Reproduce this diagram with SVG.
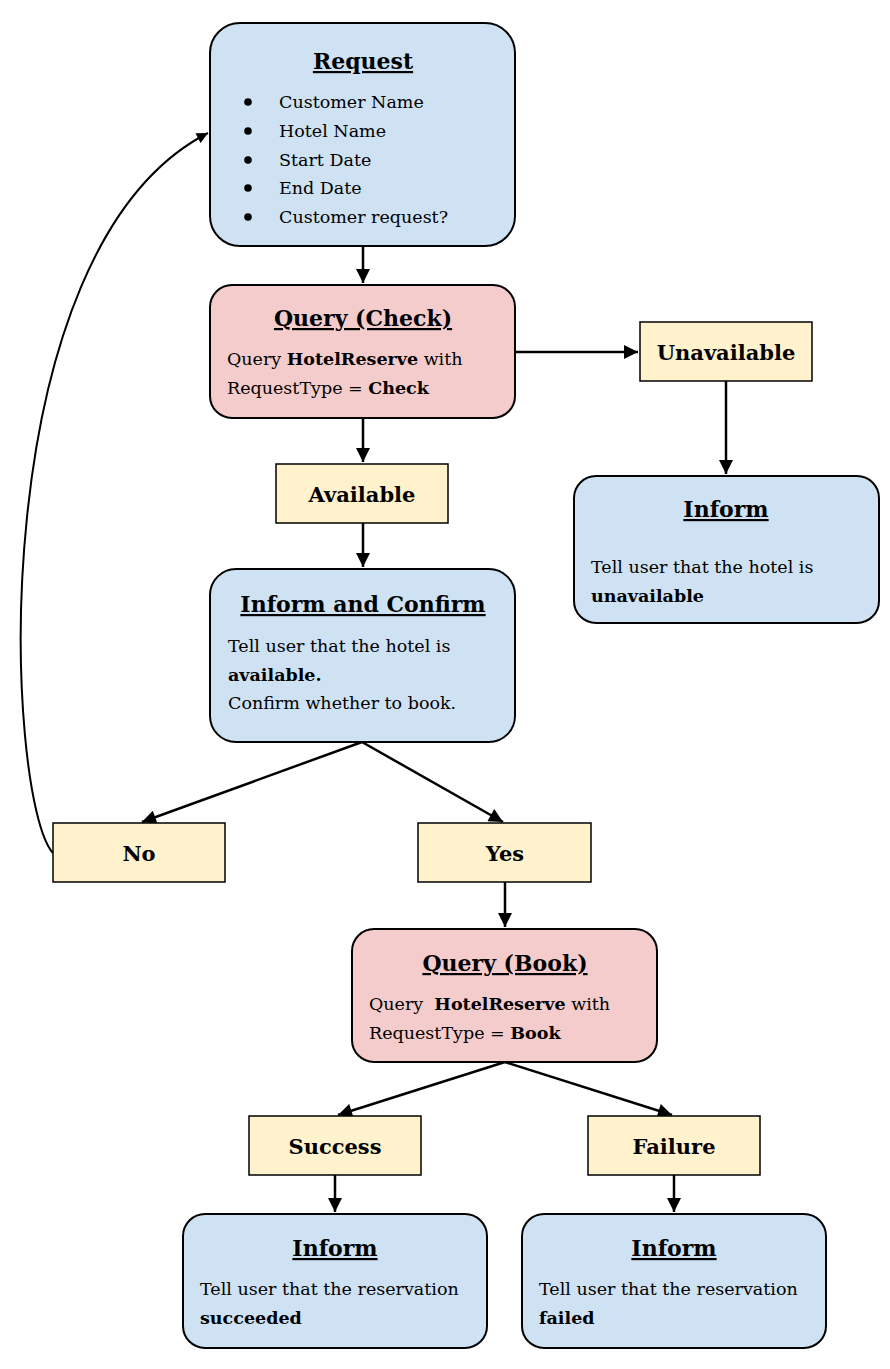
<svg xmlns="http://www.w3.org/2000/svg" width="890" height="1369" viewBox="0 0 890 1369">
  <style>
    text { font-family: "DejaVu Serif", "Liberation Serif", serif; fill: #000; }
    .step { fill: #cfe2f3; stroke: #000; stroke-width: 2; }
    .query { fill: #f4cccc; stroke: #000; stroke-width: 2; }
    .result { fill: #fff2cc; stroke: #000; stroke-width: 1.5; }
    .title { font-size: 22px; font-weight: bold; text-decoration: underline; text-anchor: middle; }
    .body { font-size: 17.5px; }
    .label { font-size: 21px; font-weight: bold; text-anchor: middle; }
    .edge { fill: none; stroke: #000; stroke-width: 2.5; }
    .b { font-weight: bold; }
  </style>
  <defs>
    <marker id="arrow" viewBox="0 0 10 10" refX="10" refY="5" markerWidth="6.4" markerHeight="5.6" markerUnits="strokeWidth" orient="auto">
      <path d="M0,0 L10,5 L0,10 z" fill="#000"/>
    </marker>
  </defs>

  <rect width="890" height="1369" fill="#fff"/>

  <!-- connectors -->
  <g id="connectors">
    <path class="edge" d="M363,246 V283" marker-end="url(#arrow)"/>
    <path class="edge" d="M515,352 H638" marker-end="url(#arrow)"/>
    <path class="edge" d="M726,381 V474" marker-end="url(#arrow)"/>
    <path class="edge" d="M363,418 V462" marker-end="url(#arrow)"/>
    <path class="edge" d="M363,523 V567" marker-end="url(#arrow)"/>
    <path class="edge" d="M362,742 L142,822" marker-end="url(#arrow)"/>
    <path class="edge" d="M362,742 L503,822" marker-end="url(#arrow)"/>
    <path class="edge" d="M53,853 C5,800 -20,250 208,133" marker-end="url(#arrow)" style="stroke-width:2"/>
    <path class="edge" d="M505,882 V927" marker-end="url(#arrow)"/>
    <path class="edge" d="M505,1062 L338,1115" marker-end="url(#arrow)"/>
    <path class="edge" d="M505,1062 L672,1115" marker-end="url(#arrow)"/>
    <path class="edge" d="M335,1175 V1212" marker-end="url(#arrow)"/>
    <path class="edge" d="M674,1175 V1212" marker-end="url(#arrow)"/>
  </g>

  <!-- request -->
  <g id="request">
    <rect class="step" x="210" y="23" width="305" height="223" rx="30"/>
    <text class="title" x="363" y="69">Request</text>
    <circle cx="248" cy="102" r="3.8"/>
    <circle cx="248" cy="131" r="3.8"/>
    <circle cx="248" cy="160" r="3.8"/>
    <circle cx="248" cy="188" r="3.8"/>
    <circle cx="248" cy="217" r="3.8"/>
    <text class="body" x="279" y="108">Customer Name</text>
    <text class="body" x="279" y="137">Hotel Name</text>
    <text class="body" x="279" y="166">Start Date</text>
    <text class="body" x="279" y="194">End Date</text>
    <text class="body" x="279" y="223">Customer request?</text>
  </g>

  <!-- query check -->
  <g id="query-check">
    <rect class="query" x="210" y="285" width="305" height="133" rx="22"/>
    <text class="title" x="363" y="326">Query (Check)</text>
    <text class="body" x="227" y="365">Query <tspan class="b">HotelReserve</tspan> with</text>
    <text class="body" x="227" y="394">RequestType = <tspan class="b">Check</tspan></text>
  </g>

  <!-- unavailable -->
  <g id="unavailable">
    <rect class="result" x="640" y="322" width="172" height="59"/>
    <text class="label" x="726" y="360">Unavailable</text>
  </g>

  <!-- inform unavailable -->
  <g id="inform-unavailable">
    <rect class="step" x="574" y="476" width="305" height="147" rx="22"/>
    <text class="title" x="726" y="517">Inform</text>
    <text class="body" x="591" y="573">Tell user that the hotel is</text>
    <text class="body b" x="591" y="602">unavailable</text>
  </g>

  <!-- available -->
  <g id="available">
    <rect class="result" x="276" y="464" width="172" height="59"/>
    <text class="label" x="362" y="502">Available</text>
  </g>

  <!-- inform and confirm -->
  <g id="inform-confirm">
    <rect class="step" x="210" y="569" width="305" height="173" rx="26"/>
    <text class="title" x="363" y="612">Inform and Confirm</text>
    <text class="body" x="228" y="652">Tell user that the hotel is</text>
    <text class="body b" x="228" y="681">available.</text>
    <text class="body" x="228" y="709">Confirm whether to book.</text>
  </g>

  <!-- no -->
  <g id="no">
    <rect class="result" x="53" y="823" width="172" height="59"/>
    <text class="label" x="139" y="861">No</text>
  </g>

  <!-- yes -->
  <g id="yes">
    <rect class="result" x="418" y="823" width="173" height="59"/>
    <text class="label" x="505" y="861">Yes</text>
  </g>

  <!-- query book -->
  <g id="query-book">
    <rect class="query" x="352" y="929" width="305" height="133" rx="22"/>
    <text class="title" x="505" y="971">Query (Book)</text>
    <text class="body" x="369" y="1010" xml:space="preserve">Query  <tspan class="b">HotelReserve</tspan> with</text>
    <text class="body" x="369" y="1039">RequestType = <tspan class="b">Book</tspan></text>
  </g>

  <!-- success -->
  <g id="success">
    <rect class="result" x="249" y="1116" width="172" height="59"/>
    <text class="label" x="335" y="1154">Success</text>
  </g>

  <!-- failure -->
  <g id="failure">
    <rect class="result" x="588" y="1116" width="172" height="59"/>
    <text class="label" x="674" y="1154">Failure</text>
  </g>

  <!-- inform success -->
  <g id="inform-success">
    <rect class="step" x="183" y="1214" width="304" height="134" rx="22"/>
    <text class="title" x="335" y="1256">Inform</text>
    <text class="body" x="200" y="1295">Tell user that the reservation</text>
    <text class="body b" x="200" y="1324">succeeded</text>
  </g>

  <!-- inform failure -->
  <g id="inform-failure">
    <rect class="step" x="522" y="1214" width="304" height="134" rx="22"/>
    <text class="title" x="674" y="1256">Inform</text>
    <text class="body" x="539" y="1295">Tell user that the reservation</text>
    <text class="body b" x="539" y="1324">failed</text>
  </g>
</svg>
